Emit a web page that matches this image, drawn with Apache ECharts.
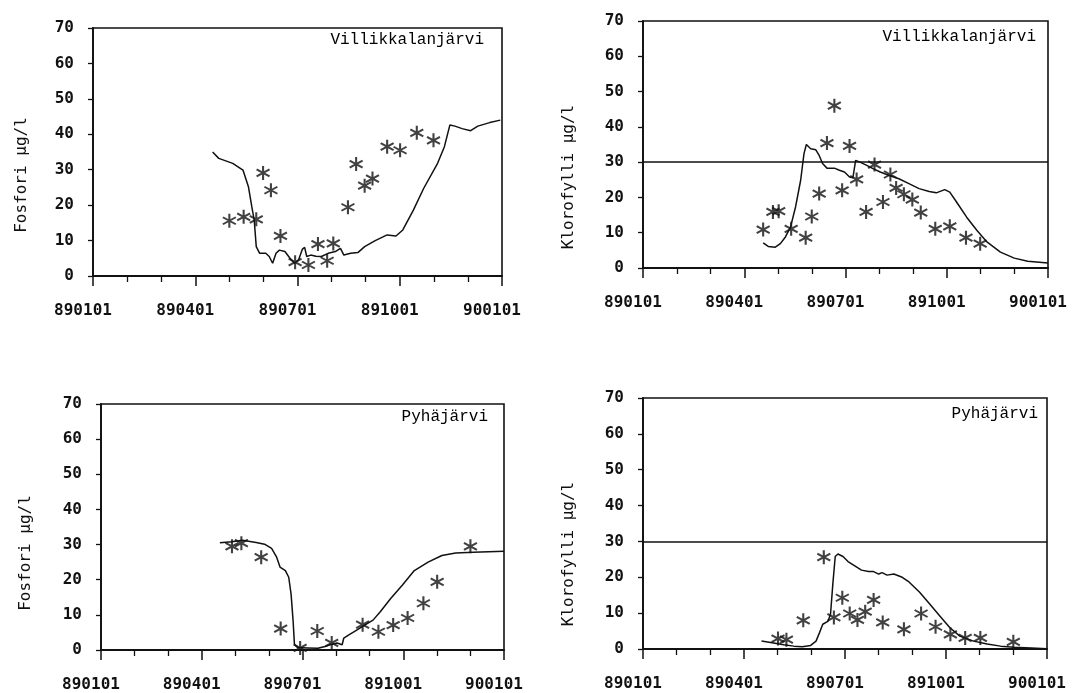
<!DOCTYPE html>
<html>
<head>
<meta charset="utf-8">
<script src="https://cdn.jsdelivr.net/npm/echarts@6/dist/echarts.min.js"></script>
<style>html,body{margin:0;padding:0;background:#fff;}#c{width:1074px;height:693px;}</style>
</head>
<body>
<div id="c"></div>
<script>
// x values are months since 890101 (0 = 890101, 12 = 900101)
const xTickLabels = ['890101', '890401', '890701', '891001', '900101'];
const yTickValues = [0, 10, 20, 30, 40, 50, 60, 70];

// Panel 1: Villikkalanjärvi, Fosfori
const vFosLineX = [3.51,3.69,4.10,4.40,4.56,4.66,4.73,4.79,4.89,5.07,5.17,5.27,5.37,5.47,5.63,5.78,5.91,6.03,6.14,6.21,6.27,6.39,6.54,6.70,6.90,7.11,7.26,7.36,7.56,7.77,7.97,8.28,8.63,8.89,9.09,9.40,9.70,10.11,10.31,10.47,10.62,10.83,11.08,11.29,11.64,11.95];
const vFosLineY = [35.0,33.2,31.8,29.9,25.2,19.5,15.8,8.3,6.4,6.4,5.5,3.6,6.4,7.3,6.9,5.0,3.6,4.5,7.5,8.1,5.5,5.9,5.6,5.5,6.4,6.9,7.8,5.9,6.4,6.6,8.3,10.0,11.6,11.3,13.0,18.6,24.7,31.8,36.5,42.6,42.3,41.6,41.0,42.3,43.3,44.0];
const vFosObsX = [4.00,4.42,4.79,4.99,5.22,5.50,5.93,6.32,6.60,6.87,7.05,7.48,7.72,7.97,8.20,8.63,9.01,9.50,9.99];
const vFosObsY = [15.6,16.7,16.0,29.1,24.2,11.3,3.9,3.1,9.0,4.3,9.2,19.4,31.6,25.5,27.5,36.5,35.5,40.4,38.3];

// Panel 2: Villikkalanjärvi, Klorofylli
const vKloLineX = [3.56,3.71,3.92,4.07,4.22,4.37,4.52,4.67,4.77,4.84,4.97,5.12,5.22,5.32,5.45,5.67,5.82,5.97,6.12,6.22,6.30,6.43,6.63,6.83,7.03,7.28,7.58,7.88,8.18,8.48,8.69,8.94,9.09,9.29,9.59,9.89,10.19,10.59,11.0,11.4,12.0];
const vKloLineY = [7.1,6.1,5.9,6.9,8.8,11.6,17.3,24.8,32.4,35.0,33.8,33.5,31.9,29.6,28.3,28.3,27.7,27.2,25.8,25.6,30.5,30.0,29.1,28.1,27.2,26.3,25.3,23.9,22.5,21.7,21.3,22.2,21.5,18.7,14.4,10.7,7.4,4.5,2.8,1.9,1.4];
const vKloObsX = [3.56,3.85,4.02,4.39,4.82,5.00,5.22,5.45,5.67,5.90,6.12,6.33,6.61,6.86,7.11,7.33,7.50,7.73,7.98,8.23,8.66,9.09,9.57,9.99];
const vKloObsY = [10.9,15.9,16.1,11.1,8.6,14.6,21.1,35.4,46.0,22.0,34.6,25.1,15.9,29.3,18.7,26.5,22.7,20.9,19.4,15.7,11.1,11.8,8.6,6.9];

// Panel 3: Pyhäjärvi, Fosfori
const pFosLineX = [3.54,3.90,4.21,4.62,4.87,5.08,5.23,5.33,5.49,5.59,5.66,5.72,5.76,5.85,6.15,6.46,6.67,6.82,7.03,7.18,7.23,7.38,7.59,7.79,8.10,8.31,8.62,8.97,9.33,9.74,10.15,10.56,11.08,12.0];
const pFosLineY = [30.5,30.8,31.2,30.6,30.1,28.9,26.4,23.6,22.6,20.7,15.9,8.3,1.6,0.7,0.6,0.5,1.0,1.5,2.0,1.5,3.4,4.3,5.5,6.7,8.5,10.8,14.6,18.4,22.6,25.0,26.9,27.6,27.8,28.1];
const pFosObsX = [3.90,4.18,4.77,5.35,5.93,6.44,6.87,7.79,8.26,8.70,9.13,9.60,10.01,11.0];
const pFosObsY = [29.5,30.4,26.4,6.1,0.6,5.4,2.0,7.2,5.2,7.1,9.1,13.3,19.4,29.5];

// Panel 4: Pyhäjärvi, Klorofylli
const pKloLineX = [3.52,3.88,4.18,4.48,4.73,4.98,5.14,5.24,5.34,5.49,5.57,5.64,5.71,5.79,5.94,6.09,6.29,6.49,6.70,6.85,7.00,7.10,7.25,7.45,7.70,7.90,8.21,8.51,8.81,9.11,9.41,9.82,10.22,10.62,11.02,11.53,12.0];
const pKloLineY = [2.2,1.7,1.2,0.8,0.6,1.0,2.2,4.5,6.9,7.7,9.7,18.3,25.8,26.5,25.8,24.4,23.2,22.0,21.6,21.6,20.9,21.3,20.6,20.9,20.0,18.7,15.9,12.6,9.3,6.0,3.6,2.2,1.4,0.8,0.5,0.3,0.1];
const pKloObsX = [4.01,4.26,4.76,5.37,5.67,5.92,6.14,6.37,6.60,6.85,7.12,7.75,8.26,8.69,9.13,9.57,10.02,11.0];
const pKloObsY = [2.9,2.6,8.0,25.6,8.8,14.3,9.9,8.1,10.4,13.7,7.4,5.5,9.9,6.2,4.1,3.1,3.1,2.0];

const kloLimit = 30;
const lakeNames = ['Villikkalanjärvi', 'Villikkalanjärvi', 'Pyhäjärvi', 'Pyhäjärvi'];
const yTitles = ['Fosfori µg/l', 'Klorofylli µg/l', 'Fosfori µg/l', 'Klorofylli µg/l'];

function zip(xs, ys) { return xs.map((x, i) => [x, ys[i]]); }

// asterisk symbol (style only)
function starPath() {
  const L = 50, w = 7, c = 50;
  let d = '';
  [90, 30, -30].forEach(deg => {
    const a = deg * Math.PI / 180;
    const ux = Math.cos(a), uy = Math.sin(a);
    const vx = -uy, vy = ux;
    const pts = [
      [c + L*ux + w*vx, c + L*uy + w*vy],
      [c - L*ux + w*vx, c - L*uy + w*vy],
      [c - L*ux - w*vx, c - L*uy - w*vy],
      [c + L*ux - w*vx, c + L*uy - w*vy]
    ];
    d += 'M' + pts.map(p => p[0].toFixed(2) + ' ' + p[1].toFixed(2)).join(' L') + ' Z ';
  });
  return 'path://' + d;
}
const STAR = starPath();

const grids = [
  {left: 93, top: 28, width: 409, height: 248},
  {left: 643, top: 21, width: 405, height: 247},
  {left: 101, top: 404, width: 403, height: 248},
  {left: 643, top: 398, width: 404, height: 251}
];
const titlePos = [[22, 175], [569, 177], [26, 553], [569, 554]];
const namePos = [[484, 40], [1036, 37], [488, 417], [1038, 414]];

const monoFont = 'DejaVu Sans Mono';
const ink = '#111';

const option = {
  animation: false,
  backgroundColor: '#fff',
  grid: grids.map(g => Object.assign({show: true, borderColor: ink, borderWidth: 1.6, backgroundColor: 'transparent'}, g)),
  xAxis: grids.map((g, i) => ({
    type: 'value', gridIndex: i, min: 0, max: 12, interval: 3,
    axisLine: {show: true, onZero: false, lineStyle: {color: ink, width: 1.8}},
    axisTick: {show: true, inside: false, length: 10, lineStyle: {color: ink, width: 1.5}},
    minorTick: {show: true, splitNumber: 3, length: 6, lineStyle: {color: ink, width: 1.3}},
    splitLine: {show: false}, minorSplitLine: {show: false},
    axisLabel: {
      margin: 27, color: '#111', fontFamily: monoFont, fontSize: 16, fontWeight: 'bold',
      padding: [0, 20, 0, 0],
      formatter: v => xTickLabels[Math.round(v / 3)] || ''
    }
  })),
  yAxis: grids.map((g, i) => ({
    type: 'value', gridIndex: i, min: 0, max: 70, interval: 10,
    axisLine: {show: true, lineStyle: {color: ink, width: 1.8}},
    axisTick: {show: true, inside: false, length: 5, lineStyle: {color: ink, width: 1.3}},
    splitLine: {show: false},
    axisLabel: {margin: 19, color: '#111', fontFamily: monoFont, fontSize: 16, fontWeight: 'bold',
      formatter: v => yTickValues.indexOf(v) >= 0 ? String(v) : ''}
  })),
  graphic: [
    ...titlePos.map((p, i) => ({
      type: 'text', x: p[0], y: p[1], rotation: Math.PI / 2,
      style: {text: yTitles[i], fill: '#111', font: '16px "' + monoFont + '"', align: 'center', verticalAlign: 'middle'}
    })),
    ...namePos.map((p, i) => ({
      type: 'text', x: p[0], y: p[1],
      style: {text: lakeNames[i], fill: '#000', font: '16px "Liberation Mono"', align: 'right', verticalAlign: 'middle'}
    }))
  ],
  series: []
};

const panels = [
  [vFosLineX, vFosLineY, vFosObsX, vFosObsY, false],
  [vKloLineX, vKloLineY, vKloObsX, vKloObsY, true],
  [pFosLineX, pFosLineY, pFosObsX, pFosObsY, false],
  [pKloLineX, pKloLineY, pKloObsX, pKloObsY, true]
];
panels.forEach((p, i) => {
  const line = {
    type: 'line', xAxisIndex: i, yAxisIndex: i, data: zip(p[0], p[1]),
    showSymbol: false, symbol: 'none', smooth: false,
    lineStyle: {color: ink, width: 1.5}
  };
  if (p[4]) {
    line.markLine = {
      silent: true, symbol: 'none', label: {show: false},
      lineStyle: {color: ink, width: 1.5, type: 'solid'},
      data: [{yAxis: kloLimit}]
    };
  }
  option.series.push(line);
  option.series.push({
    type: 'scatter', xAxisIndex: i, yAxisIndex: i, data: zip(p[2], p[3]),
    symbol: STAR, symbolSize: 14, itemStyle: {color: '#111'}
  });
});

const chart = echarts.init(document.getElementById('c'), null, {renderer: 'canvas'});
chart.setOption(option);
</script>
</body>
</html>
